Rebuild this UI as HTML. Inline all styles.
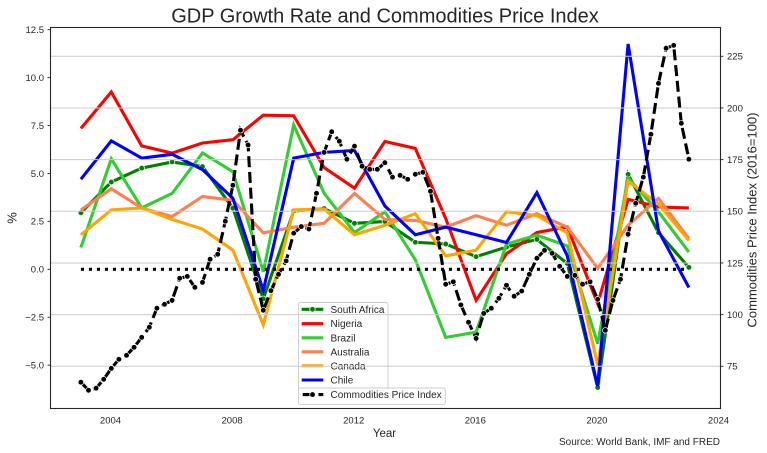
<!DOCTYPE html>
<html lang="en">
<head>
<meta charset="utf-8">
<title>GDP Growth Rate and Commodities Price Index</title>
<style>
html,body{margin:0;padding:0;background:#fff;width:767px;height:453px;overflow:hidden}
svg{display:block}
text{font-family:"Liberation Sans",Arial,sans-serif;fill:#262626}
</style>
</head>
<body>
<svg id="chart" width="767" height="453" viewBox="0 0 767 453" xmlns="http://www.w3.org/2000/svg"></svg>
<script>
const years = [2003,2004,2005,2006,2007,2008,2009,2010,2011,2012,2013,2014,2015,2016,2017,2018,2019,2020,2021,2022,2023];
const southAfrica = [2.95,4.55,5.28,5.6,5.36,3.19,-1.54,3.04,3.17,2.4,2.49,1.41,1.32,0.66,1.16,1.56,0.3,-6.17,4.95,1.91,0.1];
const nigeria = [7.35,9.25,6.44,6.06,6.59,6.76,8.04,8.01,5.31,4.23,6.67,6.31,2.65,-1.62,0.81,1.92,2.21,-1.79,3.65,3.25,3.2];
const brazil = [1.14,5.76,3.2,3.96,6.07,5.09,-0.13,7.53,3.97,1.92,3.0,0.5,-3.55,-3.28,1.32,1.78,1.22,-3.88,4.76,3.0,0.9];
const australia = [3.1,4.2,3.2,2.75,3.8,3.6,1.9,2.2,2.4,3.96,2.6,2.55,2.2,2.8,2.3,2.9,2.2,0.05,2.3,3.7,1.6];
const canada = [1.8,3.1,3.2,2.6,2.1,1.0,-2.9,3.1,3.15,1.8,2.3,2.9,0.7,1.0,3.0,2.8,1.9,-5.0,4.6,3.4,1.5];
const chile = [4.7,6.7,5.8,6.0,5.2,3.7,-1.1,5.8,6.1,6.2,3.3,1.8,2.2,1.8,1.4,4.0,0.7,-6.1,11.75,2.0,-0.95];
const zeroLine = [0,0];
const zeroYears = [2003,2023];
const commodityStartYear = 2003;
const commodityPerYear = 4;
const commodityIndex = [67.3,63.4,64.4,68.7,74,78.4,80.3,84.2,89,93.9,103.1,105,106.9,117.6,118.5,113.2,115.6,126.8,129.2,145.2,162.6,189.2,182.1,117.1,102.1,111.6,119.5,126,139.4,142.6,141.4,158.7,178.5,188.5,183.9,175.2,181.5,171.8,170.3,170.3,173.5,166.5,167.4,165.5,167.9,168.9,159.7,136.9,114.7,115.9,104.7,96.3,88.5,100.6,103.1,107.9,114.2,108.9,111.4,119.5,127.3,131.1,129.7,123.4,118.5,119,114.7,115.9,107.4,92.4,106.9,117.1,138.9,153.9,166.5,187.3,211.9,228.9,230.3,192.6,175.2];
const xTicks = [2004,2008,2012,2016,2020,2024];
const leftTicks = [12.5,10,7.5,5,2.5,0,-2.5,-5];
const rightTicks = [225,200,175,150,125,100,75];
const seriesNames = ['South Africa','Nigeria','Brazil','Australia','Canada','Chile'];
const seriesColors = ['#008000','#ff0000','#32cd32','#ff7f50','#ffa500','#0000ff'];
const seriesValues = [southAfrica,nigeria,brazil,australia,canada,chile];

const NS = 'http://www.w3.org/2000/svg';
const svg = document.getElementById('chart');
const PL = 50.5, PR = 720.5, PT = 27.5, PB = 408.5;
const LW = 3.1;
function xAxis(y){ return 80.9 + 30.4 * (y - 2003); }
function yLeft(v){ return 269.3 - 19.17 * v; }
function yRight(v){ return 366.3 - 2.0667 * (v - 75); }
function make(tag, attrs, parent){
  const el = document.createElementNS(NS, tag);
  for (const k in attrs) el.setAttribute(k, attrs[k]);
  (parent || svg).appendChild(el);
  return el;
}
function kebab(s){ return s.toLowerCase().replace(/[^a-z0-9]+/g,'-'); }
function fmtLeft(v){ const s = v.toFixed(1); return v < 0 ? '\u2212' + s.slice(1) : s; }
function pts(xs, ys){ return xs.map((x,i)=>x.toFixed(2)+','+ys[i].toFixed(2)).join(' '); }

/* background */
const bg = make('rect',{x:PL,y:PT,width:PR-PL,height:PB-PT,fill:'#fff'});



/* left-axis series */
seriesNames.forEach((name,s)=>{
  const xs = years.map(xAxis);
  const ys = seriesValues[s].map(yLeft);
  const g = make('g',{});
  
  
  const line = make('polyline',{points:pts(xs,ys),fill:'none',stroke:seriesColors[s],'stroke-width':LW,'stroke-linejoin':'miter','stroke-linecap':'butt'},g);
  
  
  if (s === 0) {
    xs.forEach((x,i)=>{
      const c = make('circle',{cx:x,cy:ys[i],r:2.8,fill:'#008000',stroke:'#fff','stroke-width':0.7},g);
      
      
    });
  }
});

/* zero reference line */
const zero = make('polyline',{points:pts(zeroYears.map(xAxis),zeroLine.map(yLeft)),fill:'none',stroke:'#000','stroke-width':3.1,'stroke-dasharray':'3.1 4.9'});



/* legend helpers */
function legendBox(x,y,w,h,name){
  const r = make('rect',{x:x,y:y,width:w,height:h,rx:2,ry:2,fill:'#fff','fill-opacity':0.85,stroke:'#cccccc','stroke-width':0.9});
  
  
}
const rowYs = [309.3,323.7,337.8,351.8,365.8,380];
const LH1 = 301.7, LH2 = 323.3, LT = 330.5;
legendBox(298.5,302.5,89.5,88,'series-legend');
seriesNames.forEach((name,s)=>{
  const g = make('g',{});
  
  
  make('line',{x1:LH1,x2:LH2,y1:rowYs[s],y2:rowYs[s],stroke:seriesColors[s],'stroke-width':LW},g);
  if (s === 0) make('circle',{cx:(LH1+LH2)/2,cy:rowYs[s],r:2.8,fill:'#008000',stroke:'#fff','stroke-width':0.7},g);
  const t = make('text',{x:LT,y:rowYs[s]+3.5,'font-size':10},g);
  t.textContent = name;
});

/* right-axis grid */
rightTicks.forEach(v=>{
  const l = make('line',{x1:PL,x2:PR,y1:yRight(v),y2:yRight(v),stroke:'#cccccc','stroke-width':1});
  
  
});

/* commodity series */
const cg = make('g',{});


const cx = commodityIndex.map((v,i)=>xAxis(commodityStartYear + i/commodityPerYear));
const cy = commodityIndex.map(yRight);
const cl = make('polyline',{points:pts(cx,cy),fill:'none',stroke:'#000','stroke-width':LW,'stroke-dasharray':'11 4.8','stroke-linejoin':'miter'},cg);


cx.forEach((x,i)=>{
  const c = make('circle',{cx:x,cy:cy[i],r:2.8,fill:'#000',stroke:'#fff','stroke-width':0.7},cg);
  
  
});

/* second legend */
legendBox(298.5,388,146.8,16.4,'commodities-legend');
const cle = make('g',{});


make('line',{x1:LH1+1,x2:LH2,y1:394.6,y2:394.6,stroke:'#000','stroke-width':LW,'stroke-dasharray':'11 4.8'},cle);
make('circle',{cx:(LH1+LH2)/2,cy:394.6,r:2.8,fill:'#000',stroke:'#fff','stroke-width':0.7},cle);
const clt = make('text',{x:LT,y:398,'font-size':10},cle);
clt.textContent = 'Commodities Price Index';

/* spines */
const spine = make('rect',{x:PL,y:PT,width:PR-PL,height:PB-PT,fill:'none',stroke:'#262626','stroke-width':1.1});



/* ticks and labels */
xTicks.forEach(v=>{
  const t = make('text',{x:xAxis(v)-0.8,y:423.5,'font-size':9.5,'text-anchor':'middle'});
  
  
  t.textContent = String(v);
});
leftTicks.forEach(v=>{
  make('line',{x1:PL-3,x2:PL,y1:yLeft(v),y2:yLeft(v),stroke:'#262626','stroke-width':0.9});
  const t = make('text',{x:44,y:yLeft(v)+3.3,'font-size':9.5,'text-anchor':'end'});
  
  
  t.textContent = fmtLeft(v);
});
rightTicks.forEach(v=>{
  make('line',{x1:PR,x2:PR+3,y1:yRight(v),y2:yRight(v),stroke:'#262626','stroke-width':0.9});
  const t = make('text',{x:727,y:yRight(v)+3.3,'font-size':9.5});
  
  
  t.textContent = String(v);
});
</script>
<script>
function addText(content,name,attrs){
  const t = document.createElementNS('http://www.w3.org/2000/svg','text');
  for (const k in attrs) t.setAttribute(k, attrs[k]);
  
  
  t.textContent = content;
  document.getElementById('chart').appendChild(t);
}
addText('GDP Growth Rate and Commodities Price Index','chart-title',{x:385,y:22.5,'font-size':20,'text-anchor':'middle'});
addText('Year','x-axis-title',{x:384.5,y:437,'font-size':11.5,'text-anchor':'middle'});
addText('%','left-y-axis-title',{x:0,y:0,'font-size':13,'text-anchor':'middle',transform:'translate(16.5,218) rotate(-90)'});
addText('Commodities Price Index (2016=100)','right-y-axis-title',{x:0,y:0,'font-size':13,'text-anchor':'middle',transform:'translate(756.5,220) rotate(-90)'});
addText('Source: World Bank, IMF and FRED','source-note',{x:720,y:445,'font-size':10,'text-anchor':'end'});
</script>
</body>
</html>
